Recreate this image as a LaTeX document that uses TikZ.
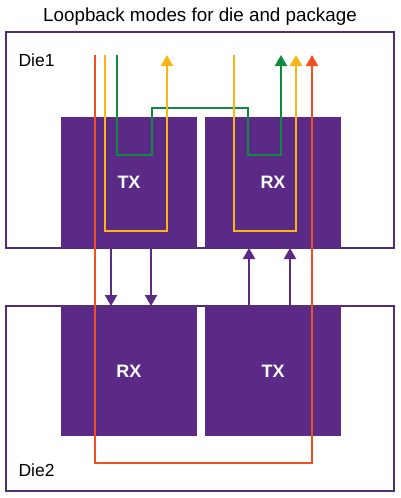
\documentclass[tikz,border=0pt]{standalone}
\usepackage{fontspec}
\setmainfont{Liberation Sans}
\usetikzlibrary{arrows.meta, positioning}

\definecolor{diefill}{HTML}{5B2A86}
\definecolor{dieline}{HTML}{4F2D7F}
\definecolor{lbred}{HTML}{F04E23}
\definecolor{lbyellow}{HTML}{FDB515}
\definecolor{lbgreen}{HTML}{0F8B3F}

\begin{document}
\begin{tikzpicture}[x=1pt, y=-1pt, >={Triangle[length=11pt, width=12pt]},
  die/.style={draw=dieline, line width=1.5pt, inner sep=0pt, outer sep=0pt},
  block/.style={fill=diefill, text=white, inner sep=0pt, outer sep=0pt,
    minimum width=136pt, font=\fontsize{18}{20}\selectfont\bfseries},
  link/.style={draw=diefill, line width=2.2pt},
  route/.style={line width=2.2pt}]
  \useasboundingbox (0,0) rectangle (400,498);
  \node[font=\fontsize{18.8}{22}\selectfont] (title) at (200,16.5) {Loopback modes for die and package};

  \node[die, minimum width=388pt, minimum height=216pt] (die1) at (200,140) {};
  \node[die, minimum width=388pt, minimum height=185pt] (die2) at (200,398.5) {};
  \node[anchor=west, font=\fontsize{17.5}{20}\selectfont] (die1-name) at (15,60) {Die1};
  \node[anchor=west, font=\fontsize{17.5}{20}\selectfont] (die2-name) at (15,470) {Die2};

  \node[block, minimum height=131pt] (tx1) at (129,182.5) {TX};
  \node[block, minimum height=131pt, right=8pt of tx1] (rx1) {RX};
  \node[block, minimum height=130pt] (rx2) at (129,371) {RX};
  \node[block, minimum height=130pt, right=8pt of rx2] (tx2) {TX};

  \foreach \x in {111, 151} {
      \coordinate (down\x) at (\x,0);
      \draw[link, ->] (tx1.south -| down\x) -- (rx2.north -| down\x);
  };
  \foreach \x in {249, 290} {
      \coordinate (up\x) at (\x,0);
      \draw[link, ->] (tx2.north -| up\x) -- (rx1.south -| up\x);
  };

  \coordinate (green-in) at (117,55);
  \coordinate (green-out) at (281,55);
  \coordinate (yellow1-in) at (105,55);
  \coordinate (yellow1-out) at (167,55);
  \coordinate (yellow2-in) at (234,55);
  \coordinate (yellow2-out) at (296,55);
  \coordinate (red-in) at (95,55);
  \coordinate (red-out) at (312,55);

  \draw[route, lbgreen, ->] (green-in) -- (117,155) -- (152,155) -- (152,108)
    -- (248,108) -- (248,155) -- (281,155) -- (green-out);
  \draw[route, lbyellow, ->] (yellow1-in) -- (105,231) -- (167,231) -- (yellow1-out);
  \draw[route, lbyellow, ->] (yellow2-in) -- (234,231) -- (296,231) -- (yellow2-out);
  \draw[route, lbred, ->] (red-in) -- (95,463) -- (312,463) -- (red-out);
\end{tikzpicture}
\end{document}
